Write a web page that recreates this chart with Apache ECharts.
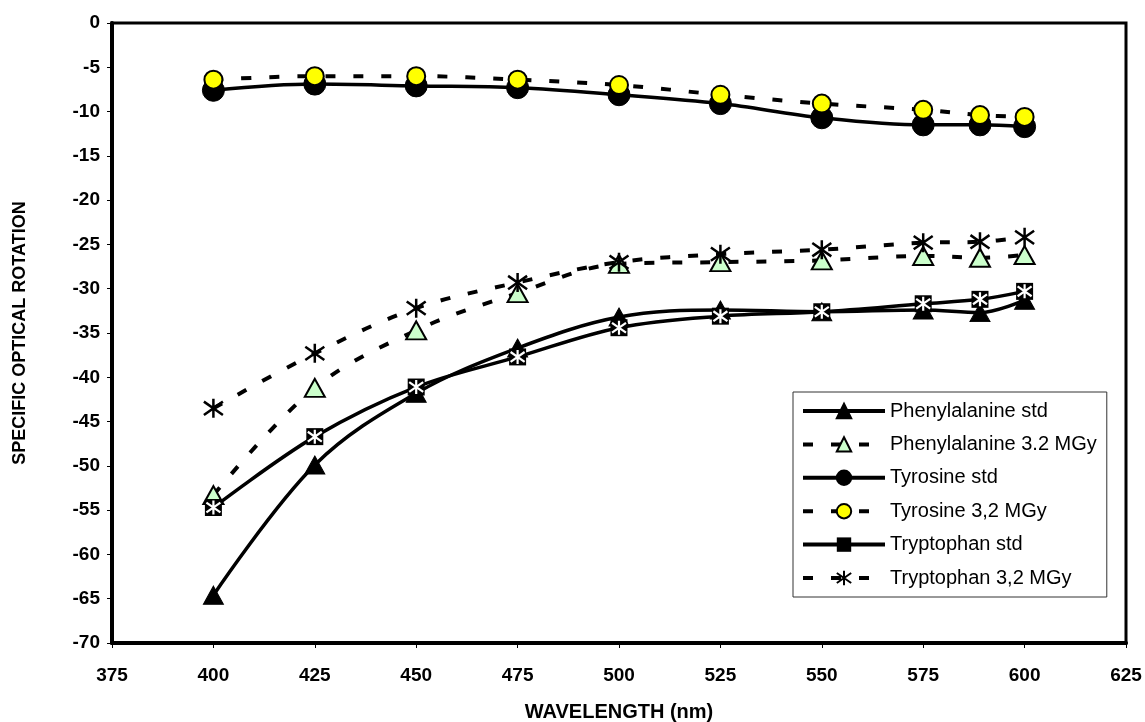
<!DOCTYPE html>
<html>
<head>
<meta charset="utf-8">
<script src="https://cdn.jsdelivr.net/npm/echarts@6/dist/echarts.min.js"></script>
<style>html,body{margin:0;padding:0;background:#fff;}#c{width:1145px;height:722px;}</style>
</head>
<body>
<div id="c"></div>
<script>
const wavelengths = [400, 425, 450, 475, 500, 525, 550, 575, 589, 600];
const pheStd   = [-64.6, -49.9, -41.8, -36.7, -33.2, -32.4, -32.6, -32.4, -32.7, -31.3];
const phe32    = [-53.3, -41.2, -34.7, -30.5, -27.2, -27.0, -26.8, -26.3, -26.5, -26.2];
const tyrStd   = [-7.6, -6.9, -7.1, -7.3, -8.1, -9.1, -10.7, -11.5, -11.5, -11.7];
const tyr32    = [-6.4, -6.0, -6.0, -6.4, -7.0, -8.1, -9.1, -9.8, -10.4, -10.6];
const trpStd   = [-54.7, -46.7, -41.1, -37.7, -34.4, -33.1, -32.6, -31.7, -31.2, -30.3];
const trp32    = [-43.5, -37.3, -32.2, -29.3, -27.0, -26.1, -25.6, -24.8, -24.7, -24.2];
const xTicks = { min: 375, max: 625, interval: 25 };
const yTicks = { min: -70, max: 0, interval: 5 };
const names = ['Phenylalanine std', 'Phenylalanine 3.2 MGy', 'Tyrosine std', 'Tyrosine 3,2 MGy', 'Tryptophan std', 'Tryptophan 3,2 MGy'];

const pair = arr => wavelengths.map((w, i) => [w, arr[i]]);
const asterisk = 'path://M5,0L5,10M1.2,1.5L8.8,8.5M8.8,1.5L1.2,8.5';
const dashed = { type: [10, 18], width: 4, color: '#000' };
const solid = { type: 'solid', width: 3.5, color: '#000' };
const SM = 0.35;
const FONT = '"Liberation Sans", Arial, sans-serif';

const chart = echarts.init(document.getElementById('c'));
chart.setOption({
  animation: false,
  backgroundColor: '#fff',
  textStyle: { fontFamily: FONT },
  grid: { left: 112, right: 19, top: 23, bottom: 79, containLabel: false, outerBoundsMode: 'none',
          show: true, borderColor: '#000', borderWidth: 3, backgroundColor: 'transparent' },
  legend: {
    orient: 'vertical', left: 793, top: 392,
    data: names,
    itemWidth: 82, itemHeight: 18, itemGap: 13.4,
    padding: [9, 10, 9, 8],
    borderColor: '#333', borderWidth: 1, backgroundColor: '#fff',
    lineStyle: { width: 4 },
    textStyle: { fontSize: 20, color: '#000', fontFamily: FONT }
  },
  xAxis: {
    type: 'value', min: xTicks.min, max: xTicks.max, interval: xTicks.interval,
    name: 'WAVELENGTH (nm)', nameLocation: 'middle', nameGap: 59,
    nameTextStyle: { fontSize: 20, fontWeight: 'bold', color: '#000' },
    axisLine: { show: true, onZero: false, lineStyle: { color: '#000', width: 4 } },
    axisTick: { show: true, length: 5, lineStyle: { color: '#000', width: 1 } },
    axisLabel: { fontSize: 19, fontWeight: 'bold', color: '#000', margin: 23 },
    splitLine: { show: false }
  },
  yAxis: {
    type: 'value', min: yTicks.min, max: yTicks.max, interval: yTicks.interval,
    name: 'SPECIFIC OPTICAL ROTATION', nameLocation: 'middle', nameGap: 83,
    nameTextStyle: { fontSize: 18, fontWeight: 'bold', color: '#000' },
    axisLine: { show: true, onZero: false, lineStyle: { color: '#000', width: 4 } },
    axisTick: { show: true, length: 5, lineStyle: { color: '#000', width: 1 } },
    axisLabel: { fontSize: 19, fontWeight: 'bold', color: '#000', margin: 12 },
    splitLine: { show: false }
  },
  series: [
    { name: names[0], type: 'line', smooth: SM, data: pair(pheStd), symbol: 'triangle', symbolSize: [20, 18],
      lineStyle: solid, itemStyle: { color: '#000', borderColor: '#000', borderWidth: 1 } },
    { name: names[1], type: 'line', smooth: SM, data: pair(phe32), symbol: 'triangle', symbolSize: [20, 18],
      lineStyle: dashed, itemStyle: { color: '#ccffcc', borderColor: '#000', borderWidth: 2 } },
    { name: names[2], type: 'line', smooth: SM, data: pair(tyrStd), symbol: 'circle', symbolSize: 22,
      lineStyle: solid, itemStyle: { color: '#000', borderColor: '#000', borderWidth: 1 } },
    { name: names[3], type: 'line', smooth: SM, data: pair(tyr32), symbol: 'circle', symbolSize: 18,
      lineStyle: dashed, itemStyle: { color: '#ffff00', borderColor: '#000', borderWidth: 2 } },
    { name: names[4], type: 'line', smooth: SM, data: pair(trpStd), symbol: 'rect', symbolSize: 17,
      lineStyle: solid, itemStyle: { color: '#000', borderColor: '#000', borderWidth: 0 } },
    { name: 'trpStdOverlay', type: 'line', data: pair(trpStd), symbol: asterisk, symbolSize: 14,
      lineStyle: { width: 0, opacity: 0 }, itemStyle: { color: 'transparent', borderColor: '#fff', borderWidth: 2.2 } },
    { name: names[5], type: 'line', smooth: SM, data: pair(trp32), symbol: asterisk, symbolSize: 19,
      lineStyle: dashed, itemStyle: { color: 'transparent', borderColor: '#000', borderWidth: 2.5 } }
  ]
});
</script>
</body>
</html>
